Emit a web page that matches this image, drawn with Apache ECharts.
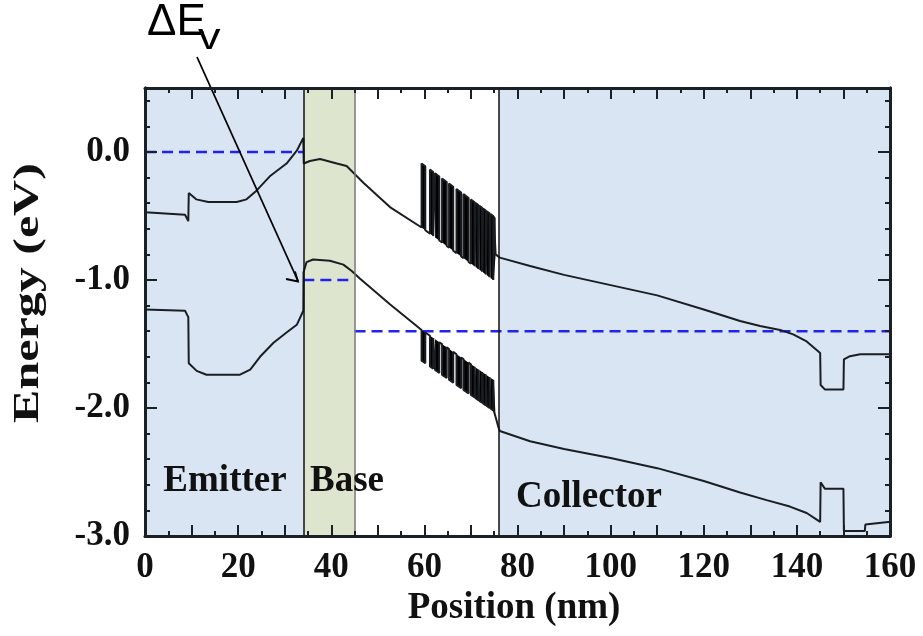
<!DOCTYPE html>
<html><head><meta charset="utf-8">
<script src="https://cdn.jsdelivr.net/npm/echarts@6/dist/echarts.min.js"></script>
<style>html,body{margin:0;padding:0;background:#fff}#c{width:923px;height:636px}</style>
</head><body><div id="c"></div>
<script>
// ---- data (nm, eV) ----
const cbX = [0,8.6,9.3,9.4,11,13.6,19.7,21.8,24,26.8,30.4,32.6,34.0,34.1,35.4,37.6,41.2,43.3,44.7,46.9,52.6,
  59.4,59.4,60.2,60.2,61.2,61.2,61.9,61.9,62.3,62.3,63.2,63.2,63.8,63.8,64.8,64.8,65.3,65.3,66.2,66.2,66.9,66.9,67.9,67.9,68.4,68.4,69.5,69.5,70.0,70.0,70.8,70.8,71.0,71.0,71.6,71.6,71.8,71.8,72.4,72.4,72.6,72.6,73.2,73.2,73.4,73.4,74.0,74.0,74.2,74.2,74.8,74.8,74.9,74.9,75.3,75.3,
  76.2,82.7,90,100,110,120,127.8,132.1,136.4,139.2,142.1,145,145.1,146,150,150.1,151.4,153.6,160];
const cbE = [-0.47,-0.49,-0.54,-0.32,-0.37,-0.39,-0.39,-0.37,-0.30,-0.19,-0.09,0.01,0.11,-0.09,-0.07,-0.055,-0.09,-0.11,-0.16,-0.24,-0.43,
  -0.590,-0.090,-0.111,-0.611,-0.638,-0.138,-0.157,-0.657,-0.667,-0.167,-0.191,-0.691,-0.707,-0.207,-0.234,-0.734,-0.747,-0.247,-0.271,-0.771,-0.790,-0.290,-0.316,-0.816,-0.829,-0.329,-0.359,-0.859,-0.872,-0.372,-0.393,-0.893,-0.899,-0.399,-0.415,-0.915,-0.920,-0.420,-0.436,-0.936,-0.941,-0.441,-0.457,-0.957,-0.963,-0.463,-0.479,-0.979,-0.984,-0.484,-0.500,-1.000,-1.003,-0.503,-0.513,-0.800,
  -0.825,-0.89,-0.96,-1.04,-1.12,-1.23,-1.32,-1.36,-1.39,-1.425,-1.48,-1.57,-1.82,-1.855,-1.855,-1.62,-1.595,-1.58,-1.58];

const vbX = [0,8.6,9.3,9.4,11.1,13.2,20.4,22.6,24.7,27.6,30.4,32.6,34.0,34.05,34.7,36.1,39.7,42.6,44.4,46.2,52.6,
  59.4,59.4,60.2,60.2,61.2,61.2,61.9,61.9,62.3,62.3,63.2,63.2,63.8,63.8,64.8,64.8,65.3,65.3,66.2,66.2,66.9,66.9,67.9,67.9,68.4,68.4,69.5,69.5,70.0,70.0,70.8,70.8,71.0,71.0,71.6,71.6,71.8,71.8,72.4,72.4,72.6,72.6,73.2,73.2,73.4,73.4,74.0,74.0,74.2,74.2,74.8,74.8,74.9,74.9,75.3,75.3,75.9,
  76.2,82.7,90,100,110,120,127.8,133.5,138.5,142.1,145,145.1,146,150,150.1,154.6,154.7,159.6,160];
const vbE = [-1.23,-1.24,-1.29,-1.65,-1.71,-1.74,-1.74,-1.70,-1.60,-1.49,-1.41,-1.35,-1.24,-0.94,-0.86,-0.84,-0.85,-0.88,-0.93,-0.99,-1.19,
  -1.390,-1.630,-1.650,-1.410,-1.436,-1.676,-1.693,-1.453,-1.463,-1.703,-1.726,-1.486,-1.501,-1.741,-1.766,-1.526,-1.539,-1.779,-1.802,-1.562,-1.580,-1.820,-1.845,-1.605,-1.618,-1.858,-1.886,-1.646,-1.658,-1.898,-1.918,-1.678,-1.683,-1.923,-1.939,-1.699,-1.704,-1.944,-1.959,-1.719,-1.724,-1.964,-1.979,-1.739,-1.744,-1.984,-1.999,-1.759,-1.764,-2.004,-2.020,-1.780,-1.782,-2.022,-2.032,-2.07,-2.15,
  -2.18,-2.26,-2.32,-2.39,-2.47,-2.57,-2.66,-2.72,-2.77,-2.82,-2.89,-2.58,-2.63,-2.63,-2.96,-2.96,-2.91,-2.89,-2.89];

const fermiX = [[0,34],[34,45],[45,160]];
const fermiE = [0.0,-1.0,-1.4];
const regions = [[0,34],[34,45],[76,160]];
const boundaries = [34,45,76];
const xTicks = [0,20,40,60,80,100,120,140,160];
const yTicks = [0,-1,-2,-3];

// ---- build ----
const zip = (xs, ys) => xs.map((x,i)=>[x, ys[i]]);
// barrier rectangles: four consecutive points forming up-across-down in a band profile
function barriers(xs, ys){
  const out = [];
  for (let i=0; i+3<xs.length; i++){
    if (xs[i]===xs[i+1] && xs[i+2]===xs[i+3] && xs[i+1]!==xs[i+2]){
      out.push([xs[i],ys[i],xs[i+1],ys[i+1],xs[i+2],ys[i+2],xs[i+3],ys[i+3]]);
      i += 3;
    }
  }
  return out;
}
const serif = '"Liberation Serif","Times New Roman",serif';
const dark = '#1b2026';
const curve = '#1a1e22';
const lblStyle = {fontFamily: serif, fontWeight:'bold', fontSize:35, color:'#111'};

function xAx(pos, labels){
  return {type:'value', min:0, max:160, interval:10, position:pos, z:10,
    axisLine:{show:true, onZero:false, lineStyle:{color:dark, width:3}},
    axisTick:{show:true, inside:true, length:11, lineStyle:{color:dark, width:2}},
    minorTick:{show:true, splitNumber:2, length:5, lineStyle:{color:dark, width:2}},
    splitLine:{show:false},
    axisLabel:{show:labels, margin:14, ...lblStyle,
      formatter: v => xTicks.includes(v) ? String(v) : ''}};
}
function yAx(pos, interval, len, labels){
  return {type:'value', min:-3, max:0.5, interval:interval, position:pos, z:10,
    axisLine:{show:true, onZero:false, lineStyle:{color:dark, width:3}},
    axisTick:{show:true, inside:true, length:len, lineStyle:{color:dark, width:2}},
    splitLine:{show:false},
    axisLabel:{show:labels, margin:15, ...lblStyle,
      formatter: v => yTicks.some(t=>Math.abs(t-v)<1e-6) ? v.toFixed(1) : ''}};
}

const blue = '#d9e5f3', green = '#dee5cf';
const regionColors = [blue, green, blue];
const lineColors = ['#111','#777','#111'];

const series = [];
series.push({type:'line', data:[], xAxisIndex:0, yAxisIndex:0, z:1, silent:true,
  markArea:{silent:true, data: regions.map((r,i)=>[{xAxis:r[0], itemStyle:{color:regionColors[i]}},{xAxis:r[1]}])},
  markLine:{silent:true, symbol:'none', label:{show:false},
    data: boundaries.map((b,i)=>({xAxis:b, lineStyle:{color:lineColors[i], width:1.5, type:'solid'}}))}
});
fermiX.forEach((fx,i)=>{
  series.push({type:'line', data: fx.map(x=>[x, fermiE[i]]), showSymbol:false, symbol:'none', z:3,
    lineStyle:{color:'#2323f0', width:2.5, type:[11,6]}});
});
series.push({type:'line', data: zip(cbX, cbE), showSymbol:false, symbol:'none', z:4,
  lineStyle:{color:curve, width:2}});
series.push({type:'line', data: zip(vbX, vbE), showSymbol:false, symbol:'none', z:4,
  lineStyle:{color:curve, width:2}});
const barRender = (params, api) => {
  const pts = [0,1,2,3].map(k => api.coord([api.value(2*k), api.value(2*k+1)]));
  return {type:'polygon', shape:{points:pts}, style:{fill:'#000'}};
};
series.push({type:'custom', renderItem: barRender, data: barriers(cbX, cbE).concat(barriers(vbX, vbE)), z:4,
  encode:{x:[0,2,4,6], y:[1,3,5,7]}, silent:true});

const chart = echarts.init(document.getElementById('c'), null, {renderer:'canvas'});
const tFont = (s) => 'bold '+s+'px '+serif;
chart.setOption({
  animation:false,
  grid:{left:145, top:88, right:33, bottom:100, containLabel:false},
  xAxis:[xAx('bottom', true), xAx('top', false)],
  yAxis:[yAx('left',1,12,true), yAx('left',0.2,5,false), yAx('right',1,12,false), yAx('right',0.2,5,false)],
  series: series,
  graphic:[
    {type:'text', x:225, y:481, z:10, style:{text:'Emitter', font:tFont(37), fill:'#111', textAlign:'center', textVerticalAlign:'middle'}},
    {type:'text', x:347, y:481, z:10, style:{text:'Base', font:tFont(37), fill:'#111', textAlign:'center', textVerticalAlign:'middle'}},
    {type:'text', x:589, y:497, z:10, style:{text:'Collector', font:tFont(37), fill:'#111', textAlign:'center', textVerticalAlign:'middle'}},
    {type:'text', x:514, y:608, z:10, style:{text:'Position (nm)', font:tFont(37), fill:'#111', textAlign:'center', textVerticalAlign:'middle'}},
    {type:'text', x:29, y:293, z:10, rotation:Math.PI/2, scaleX:1.39, style:{text:'Energy (eV)', font:tFont(36), fill:'#111', textAlign:'center', textVerticalAlign:'middle'}},
    {type:'text', x:147, y:23, z:10, style:{text:'ΔE', font:'44px "Liberation Sans",Arial,sans-serif', fill:'#000', textAlign:'left', textVerticalAlign:'middle'}},
    {type:'text', x:198, y:39, z:10, scaleX:1.25, style:{text:'v', font:'36px "Liberation Sans",Arial,sans-serif', fill:'#000', textAlign:'left', textVerticalAlign:'middle'}},
    {type:'line', z:10, shape:{x1:197, y1:57, x2:298, y2:281}, style:{stroke:'#000', lineWidth:1.8}},
    {type:'polyline', z:10, shape:{points:[[286,279],[298,281.5],[295,271.5]]}, style:{stroke:'#000', lineWidth:1.8, fill:null}}
  ]
});
</script></body></html>
